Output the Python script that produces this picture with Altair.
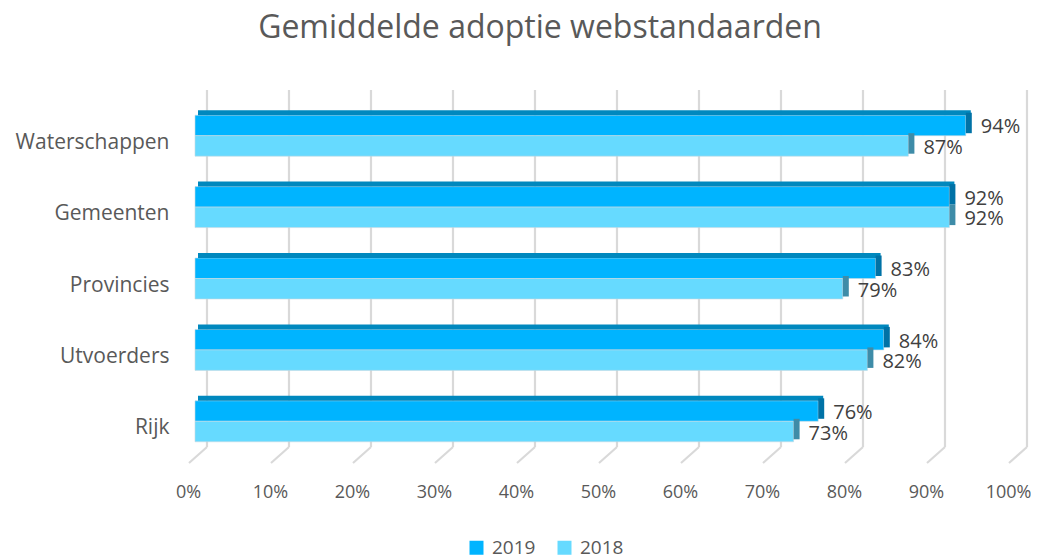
import altair as alt
import pandas as pd

categories = ["Waterschappen", "Gemeenten", "Provincies", "Utvoerders", "Rijk"]
values_2019 = [94, 92, 83, 84, 76]
values_2018 = [87, 92, 79, 82, 73]
series = ["2019", "2018"]
ticks = [0, 10, 20, 30, 40, 50, 60, 70, 80, 90, 100]
title_text = "Gemiddelde adoptie webstandaarden"

rows = []
for c, a, b in zip(categories, values_2019, values_2018):
    rows.append({"cat": c, "series": "2019", "value": a})
    rows.append({"cat": c, "series": "2018", "value": b})
df = pd.DataFrame(rows)
df["label"] = df["value"].astype(str) + "%"
df["zero"] = 0
grid = pd.DataFrame({"tick": ticks})
title_df = pd.DataFrame({"t": [title_text]})

FONT = "Open Sans"
GRAY = "#595959"
xscale = alt.Scale(domain=[0, 100], nice=False, zero=True)
yscale = alt.Scale(domain=categories, paddingInner=0.426, paddingOuter=0.213)
BAR_H = 20.5
HALF = BAR_H / 2

d2019 = alt.Chart(df).transform_filter(alt.datum.series == "2019")
d2018 = alt.Chart(df).transform_filter(alt.datum.series == "2018")

ycat_axis = alt.Y(
    "cat:N",
    scale=yscale,
    title=None,
    axis=alt.Axis(
        domain=False,
        ticks=False,
        labelPadding=26,
        labelOffset=7,
        labelFontSize=21,
        labelColor=GRAY,
        labelFont=FONT,
    ),
)
ycat = alt.Y("cat:N", scale=yscale, title=None)

gridlines = alt.Chart(grid).mark_rule(color="#d9d9d9", strokeWidth=2.2, xOffset=12).encode(
    x=alt.X(
        "tick:Q",
        scale=xscale,
        title=None,
        axis=alt.Axis(
            values=ticks,
            labelExpr="datum.value + '%'",
            grid=False,
            domain=False,
            ticks=False,
            labelFlush=False,
            labelPadding=26,
            labelOffset=-7,
            labelFontSize=18,
            labelColor=GRAY,
            labelFont=FONT,
        ),
    ),
    y=alt.value(-10),
    y2=alt.value(347),
)
slants = alt.Chart(grid).mark_rule(color="#d9d9d9", strokeWidth=2.2, xOffset=12, x2Offset=-6).encode(
    x=alt.X("tick:Q", scale=xscale, title=None),
    x2=alt.X2("tick:Q"),
    y=alt.value(347),
    y2=alt.value(363),
)

color_enc = alt.Color(
    "series:N",
    scale=alt.Scale(domain=series, range=["#00B4FF", "#66DAFF"]),
    legend=alt.Legend(
        title=None,
        orient="none",
        legendX=272,
        legendY=438,
        direction="horizontal",
        symbolType="square",
        symbolSize=196,
        symbolStrokeWidth=0,
        labelFontSize=19,
        labelFont=FONT,
        labelColor=GRAY,
        labelOffset=6,
        columnPadding=19,
    ),
)

bars19 = d2019.mark_bar(size=BAR_H, yOffset=-HALF, stroke="#c8d8e0", strokeWidth=0.6).encode(
    x=alt.X("value:Q", scale=xscale, title=None),
    y=ycat_axis,
    color=color_enc,
)
bars18 = d2018.mark_bar(size=BAR_H, yOffset=HALF, stroke="#c8d8e0", strokeWidth=0.6).encode(
    x=alt.X("value:Q", scale=xscale, title=None),
    y=ycat,
    color=color_enc,
)

top_face = d2019.mark_rule(
    strokeWidth=5, color="#0088BE", xOffset=3, x2Offset=5, yOffset=-BAR_H - 2.5
).encode(
    x=alt.X("zero:Q", scale=xscale, title=None),
    x2=alt.X2("value:Q"),
    y=ycat,
)

side19 = d2019.mark_bar(size=BAR_H, yOffset=-HALF - 2.5, x2Offset=6, color="#0072A6").encode(
    x=alt.X("value:Q", scale=xscale, title=None),
    x2=alt.X2("value:Q"),
    y=ycat,
)
side18 = d2018.mark_bar(size=BAR_H, yOffset=HALF - 2.5, x2Offset=6, color="#3E8CA8").encode(
    x=alt.X("value:Q", scale=xscale, title=None),
    x2=alt.X2("value:Q"),
    y=ycat,
)

labels19 = d2019.mark_text(align="left", dx=15, dy=-HALF + 2, fontSize=20, font=FONT, color="#404040").encode(
    x=alt.X("value:Q", scale=xscale, title=None),
    y=ycat,
    text="label:N",
)
labels18 = d2018.mark_text(align="left", dx=15, dy=HALF + 2, fontSize=20, font=FONT, color="#404040").encode(
    x=alt.X("value:Q", scale=xscale, title=None),
    y=ycat,
    text="label:N",
)

title_mark = alt.Chart(title_df).mark_text(
    fontSize=32, font=FONT, color=GRAY, align="center", baseline="alphabetic"
).encode(
    text="t:N",
    x=alt.value(345),
    y=alt.value(-62),
)

chart = alt.layer(
    gridlines, slants, bars19, bars18, top_face, side19, side18, labels19, labels18, title_mark
).properties(
    width=820,
    height=357,
    autosize=alt.AutoSizeParams(type="none"),
    padding={"left": 187, "top": 92, "right": 16, "bottom": 102},
).configure_view(stroke=None)

chart.save("out.html", embed_options={"renderer": "svg", "actions": False})
